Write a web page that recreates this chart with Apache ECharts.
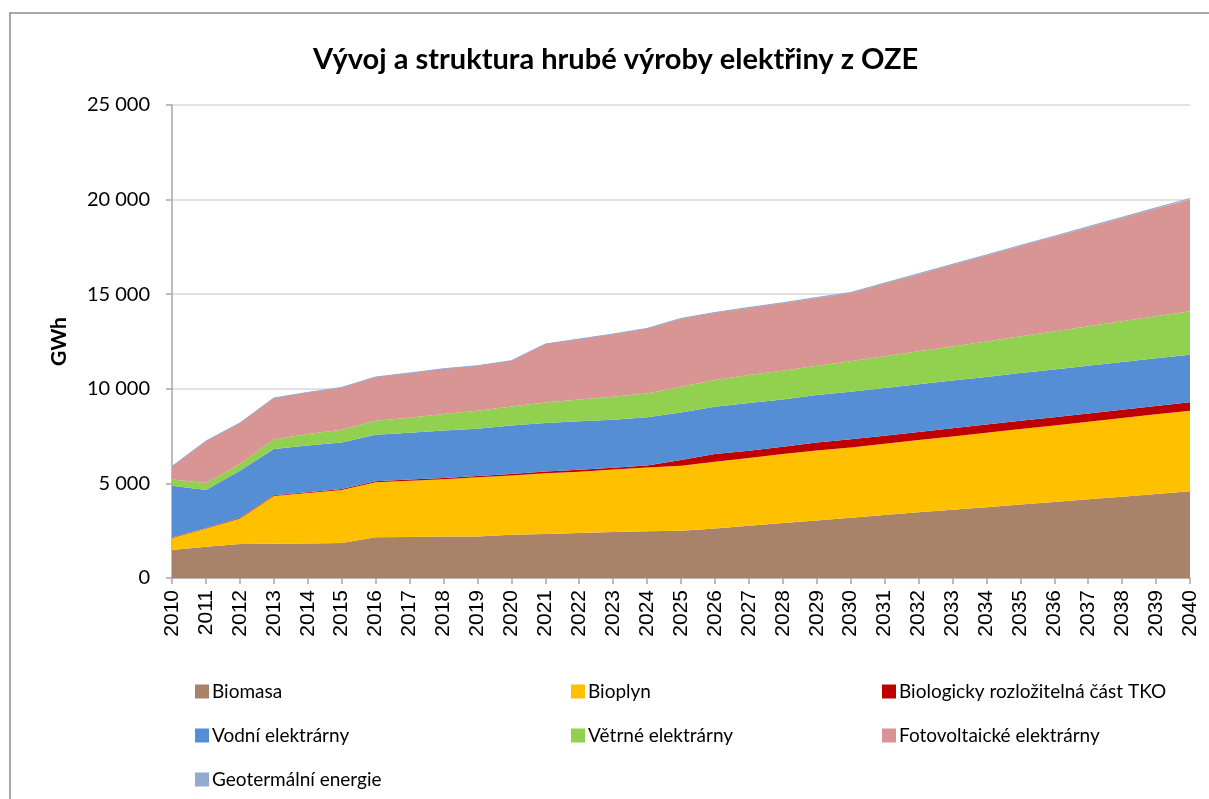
<!DOCTYPE html>
<html>
<head>
<meta charset="utf-8">
<script src="https://cdn.jsdelivr.net/npm/echarts@6/dist/echarts.min.js"></script>
<style>
  html, body { margin: 0; padding: 0; background: #fff; }
  #main { width: 1209px; height: 799px; }
</style>
</head>
<body>
<div id="main"></div>
<script>
// roky 2010 - 2040
var years = [];
for (var y = 2010; y <= 2040; y++) years.push(String(y));

// GWh
var biomasa = [1480, 1650, 1800, 1815, 1830, 1850, 2150, 2165, 2195, 2200, 2290,
  2325, 2380, 2430, 2465, 2500, 2620, 2765, 2905, 3045, 3190,
  3330, 3470, 3605, 3745, 3885, 4020, 4160, 4300, 4440, 4580];
var bioplyn = [634, 968, 1350, 2520, 2660, 2800, 2905, 2980, 3030, 3120, 3130,
  3205, 3240, 3310, 3380, 3435, 3525, 3580, 3645, 3700, 3710,
  3765, 3820, 3875, 3930, 3990, 4045, 4100, 4155, 4210, 4265];
var tko = [20, 25, 30, 40, 45, 50, 55, 60, 65, 70, 80,
  100, 105, 90, 105, 300, 405, 385, 385, 420, 430,
  430, 430, 435, 435, 435, 435, 440, 440, 440, 440];
var vodni = [2744, 2008, 2490, 2442, 2474, 2467, 2463, 2474, 2511, 2500, 2560,
  2561, 2554, 2537, 2540, 2517, 2503, 2518, 2506, 2505, 2520,
  2520, 2520, 2520, 2520, 2520, 2520, 2520, 2520, 2520, 2520];
var vetrne = [333, 370, 355, 508, 601, 671, 740, 793, 866, 952, 1005,
  1091, 1162, 1215, 1268, 1358, 1411, 1480, 1515, 1550, 1600,
  1670, 1740, 1805, 1875, 1945, 2010, 2080, 2150, 2220, 2290];
var fve = [687, 2219, 2167, 2188, 2199, 2235, 2310, 2362, 2394, 2378, 2420,
  3085, 3190, 3313, 3433, 3590, 3550, 3550, 3570, 3585, 3620,
  3850, 4080, 4310, 4540, 4770, 5000, 5230, 5460, 5690, 5920];
var geo = [0, 0, 0, 0, 0, 0, 0, 0, 0, 0, 0,
  0, 0, 0, 0, 20, 20, 20, 20, 20, 20,
  25, 25, 30, 30, 35, 35, 40, 40, 45, 45];

var names = ['Biomasa', 'Bioplyn', 'Biologicky rozložitelná část TKO',
  'Vodní elektrárny', 'Větrné elektrárny', 'Fotovoltaické elektrárny', 'Geotermální energie'];
var colors = ['#a9826a', '#ffc000', '#c00000', '#558ed5', '#92d050', '#d99594', '#95a9d3'];
var values = [biomasa, bioplyn, tko, vodni, vetrne, fve, geo];

function fmt(v) {
  return String(v).replace(/\B(?=(\d{3})+(?!\d))/g, ' ');
}

var series = [];
for (var i = 0; i < names.length; i++) {
  series.push({
    name: names[i],
    type: 'line',
    stack: 'oze',
    data: values[i],
    symbol: 'none',
    color: colors[i],
    lineStyle: { width: i == 6 ? 1 : 0, color: colors[i] },
    areaStyle: { color: colors[i], opacity: 1 }
  });
}

// legenda ve třech sloupcích
var legendPos = [
  [190, 677], [566, 677], [877, 677],
  [190, 721], [566, 721], [877, 721],
  [190, 765]
];
var legends = [];
for (var j = 0; j < names.length; j++) {
  legends.push({
    data: [names[j]],
    left: legendPos[j][0],
    top: legendPos[j][1],
    itemWidth: 14,
    itemHeight: 14,
    itemGap: 0,
    icon: 'rect',
    textStyle: { fontFamily: 'Lato', fontSize: 19, color: '#000', padding: [0, 0, 0, -2] },
    selectedMode: false
  });
}

var chart = echarts.init(document.getElementById('main'));
chart.setOption({
  animation: false,
  backgroundColor: '#fff',
  title: {
    text: 'Vývoj a struktura hrubé výroby elektřiny z OZE',
    left: 308,
    top: 40,
    textStyle: { fontFamily: 'Lato', fontWeight: 'bold', fontSize: 29, color: '#000' }
  },
  graphic: [{
    type: 'rect',
    shape: { x: 10, y: 13, width: 1220, height: 800 },
    style: { fill: 'none', stroke: '#8c8c8c', lineWidth: 1.5 },
    silent: true
  }],
  legend: legends,
  grid: { left: 172, right: 19, top: 105, bottom: 221 },
  xAxis: {
    type: 'category',
    data: years,
    boundaryGap: false,
    axisLine: { lineStyle: { color: '#a6a6a6', width: 1.5 } },
    axisTick: { show: true, length: 6, alignWithLabel: true, lineStyle: { color: '#a6a6a6', width: 1.5 } },
    axisLabel: {
      rotate: 90, margin: 12, interval: 0,
      fontFamily: 'Liberation Sans', fontSize: 21, color: '#000'
    }
  },
  yAxis: {
    type: 'value',
    min: 0, max: 25000, interval: 5000,
    name: 'GWh',
    nameLocation: 'middle',
    nameGap: 102,
    nameTextStyle: { fontFamily: 'Lato', fontWeight: 'bold', fontSize: 21, color: '#000' },
    axisLine: { show: true, lineStyle: { color: '#a6a6a6', width: 1.5 } },
    axisTick: { show: true, length: 6, lineStyle: { color: '#a6a6a6', width: 1.5 } },
    splitLine: { lineStyle: { color: '#d9d9d9', width: 1.5 } },
    axisLabel: {
      margin: 22, fontFamily: 'Lato', fontSize: 20, color: '#000',
      formatter: function (v) { return fmt(v); }
    }
  },
  series: series
});
</script>
</body>
</html>
